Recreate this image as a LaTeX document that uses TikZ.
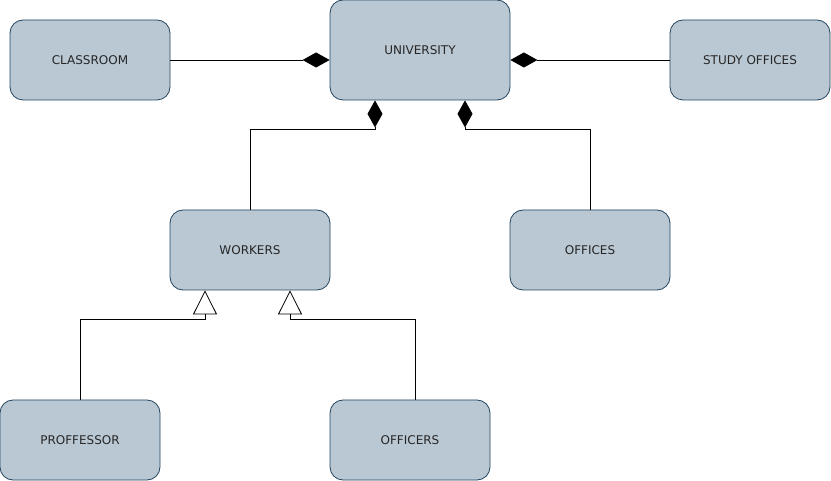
\documentclass[tikz,border=0pt]{standalone}
\usepackage{fontspec}
\setmainfont{DejaVu Sans}
\usetikzlibrary{arrows.meta}
\definecolor{boxfill}{HTML}{BAC8D3}
\definecolor{boxline}{HTML}{23445D}
\begin{document}
\begin{tikzpicture}[x=1pt, y=-1pt,
	entity/.style={draw=boxline, fill=boxfill, rounded corners=13pt, line width=0.8pt,
		minimum width=160pt, minimum height=80pt, inner sep=0pt,
		font=\fontsize{12}{14}\selectfont, text=black!85},
	comp/.style={-{Diamond[length=27pt, width=15pt]}, line width=0.8pt},
	gen/.style={-{Triangle[open, length=24pt, width=24pt]}, line width=0.8pt}]
	\useasboundingbox (0,0) rectangle (831,481);
	\node[entity, minimum width=180pt, minimum height=100pt] (Univ) at (420,50) {UNIVERSITY};
	\node[entity] (Class) at (90,60) {CLASSROOM};
	\node[entity] (Study) at (750,60) {STUDY OFFICES};
	\node[entity] (Work) at (250,250) {WORKERS};
	\node[entity] (Offi) at (590,250) {OFFICES};
	\node[entity] (Prof) at (80,440) {PROFFESSOR};
	\node[entity] (Offc) at (410,440) {OFFICERS};
	% aggregation to the university
	\draw[comp] (Class.east) -- (Univ.west |- Class.east);
	\draw[comp] (Study.west) -- (Univ.east |- Study.west);
	\draw[comp] (Work.north) -- ++(0,-80) -| ([xshift=-45pt]Univ.south);
	\draw[comp] (Offi.north) -- ++(0,-80) -| ([xshift=45pt]Univ.south);
	% kinds of workers
	\draw[gen] (Prof.north) -- ++(0,-80) -| ([xshift=-45pt]Work.south);
	\draw[gen] ([xshift=5pt]Offc.north) -- ++(0,-80) -| ([xshift=40pt]Work.south);
\end{tikzpicture}
\end{document}
